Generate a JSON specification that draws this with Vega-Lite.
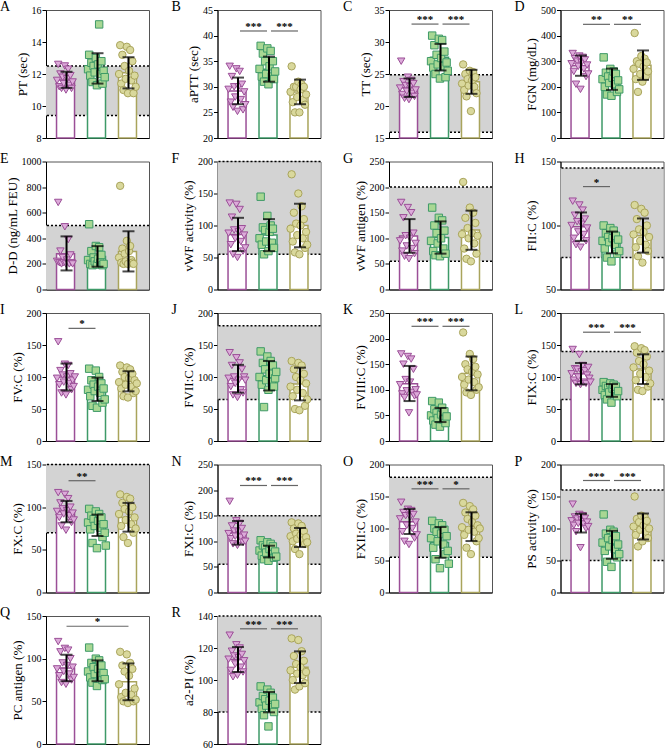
{
"$schema": "https://vega.github.io/schema/vega-lite/v6.json",
"padding": {"left": -1, "top": -1, "right": 0, "bottom": 0},
"bounds": "flush",
"columns": 4,
"spacing": {"row": 23.5, "column": 68.5},
"datasets": {
"ref": [
{"p":"A","lo":9.4,"hi":12.5},{"p":"C","lo":15.9,"hi":24.9},{"p":"E","lo":0,"hi":500},{"p":"F","lo":55,"hi":200},{"p":"G","lo":55,"hi":200},{"p":"H","lo":75,"hi":145},{"p":"J","lo":65,"hi":180},{"p":"L","lo":65,"hi":140},{"p":"M","lo":70,"hi":150},{"p":"N","lo":55,"hi":150},{"p":"O","lo":55,"hi":180},{"p":"P","lo":50,"hi":160},{"p":"R","lo":80,"hi":140}
],
"sig": [
{"p":"B","g1":"a","g2":"b","t":"***"},{"p":"B","g1":"b","g2":"c","t":"***"},
{"p":"C","g1":"a","g2":"b","t":"***"},{"p":"C","g1":"b","g2":"c","t":"***"},
{"p":"D","g1":"a","g2":"b","t":"**"},{"p":"D","g1":"b","g2":"c","t":"**"},
{"p":"H","g1":"a","g2":"b","t":"*"},
{"p":"I","g1":"a","g2":"b","t":"*"},
{"p":"K","g1":"a","g2":"b","t":"***"},{"p":"K","g1":"b","g2":"c","t":"***"},
{"p":"L","g1":"a","g2":"b","t":"***"},{"p":"L","g1":"b","g2":"c","t":"***"},
{"p":"M","g1":"a","g2":"b","t":"**"},
{"p":"N","g1":"a","g2":"b","t":"***"},{"p":"N","g1":"b","g2":"c","t":"***"},
{"p":"O","g1":"a","g2":"b","t":"***"},{"p":"O","g1":"b","g2":"c","t":"*"},
{"p":"P","g1":"a","g2":"b","t":"***"},{"p":"P","g1":"b","g2":"c","t":"***"},
{"p":"Q","g1":"a","g2":"c","t":"*"},
{"p":"R","g1":"a","g2":"b","t":"***"},{"p":"R","g1":"b","g2":"c","t":"***"}
],
"bars": [
{"p":"A","g":"a","m":11.63,"lo":11.13,"hi":12.14},{"p":"A","g":"b","m":12.35,"lo":11.4,"hi":13.3},{"p":"A","g":"c","m":12.08,"lo":11.1,"hi":13.05},
{"p":"B","g":"a","m":29.2,"lo":26.6,"hi":31.8},{"p":"B","g":"b","m":33.45,"lo":31.0,"hi":35.9},{"p":"B","g":"c","m":29.0,"lo":26.6,"hi":31.4},
{"p":"C","g":"a","m":22.85,"lo":21.4,"hi":24.3},{"p":"C","g":"b","m":27.6,"lo":25.55,"hi":29.7},{"p":"C","g":"c","m":23.8,"lo":21.9,"hi":25.65},
{"p":"D","g":"a","m":282,"lo":243,"hi":322},{"p":"D","g":"b","m":229,"lo":188,"hi":271},{"p":"D","g":"c","m":284,"lo":227,"hi":342},
{"p":"E","g":"a","m":280,"lo":149,"hi":415},{"p":"E","g":"b","m":258,"lo":178,"hi":339},{"p":"E","g":"c","m":297,"lo":141,"hi":455},
{"p":"F","g":"a","m":86,"lo":60,"hi":112},{"p":"F","g":"b","m":85,"lo":60,"hi":110},{"p":"F","g":"c","m":100,"lo":66,"hi":134},
{"p":"G","g":"a","m":104.5,"lo":71.7,"hi":137.5},{"p":"G","g":"b","m":101.5,"lo":70,"hi":133},{"p":"G","g":"c","m":116,"lo":77.5,"hi":154},
{"p":"H","g":"a","m":99,"lo":88,"hi":110.2},{"p":"H","g":"b","m":86.8,"lo":78.3,"hi":95.3},{"p":"H","g":"c","m":92,"lo":78.8,"hi":105.5},
{"p":"I","g":"a","m":100,"lo":79,"hi":121},{"p":"I","g":"b","m":81,"lo":62.5,"hi":99},{"p":"I","g":"c","m":93.3,"lo":77.6,"hi":109},
{"p":"J","g":"a","m":97.4,"lo":75.5,"hi":119},{"p":"J","g":"b","m":102,"lo":79,"hi":125},{"p":"J","g":"c","m":89,"lo":63.5,"hi":114.6},
{"p":"K","g":"a","m":112,"lo":78,"hi":146.6},{"p":"K","g":"b","m":50.7,"lo":37,"hi":64.5},{"p":"K","g":"c","m":132,"lo":99,"hi":165},
{"p":"L","g":"a","m":105,"lo":88.5,"hi":121.9},{"p":"L","g":"b","m":79,"lo":69,"hi":89},{"p":"L","g":"c","m":112.5,"lo":89,"hi":135.4},
{"p":"M","g":"a","m":94.6,"lo":82.3,"hi":107.3},{"p":"M","g":"b","m":78.5,"lo":66.2,"hi":91.3},{"p":"M","g":"c","m":88,"lo":71.3,"hi":105},
{"p":"N","g":"a","m":116.5,"lo":93.5,"hi":139.7},{"p":"N","g":"b","m":80,"lo":68.5,"hi":91.4},{"p":"N","g":"c","m":107,"lo":88.8,"hi":126},
{"p":"O","g":"a","m":110.7,"lo":91.4,"hi":130.5},{"p":"O","g":"b","m":78,"lo":54.3,"hi":102.3},{"p":"O","g":"c","m":102.8,"lo":80.4,"hi":125.3},
{"p":"P","g":"a","m":108,"lo":93.75,"hi":123},{"p":"P","g":"b","m":74.5,"lo":52.6,"hi":96.4},{"p":"P","g":"c","m":103,"lo":82.8,"hi":123.4},
{"p":"Q","g":"a","m":89,"lo":73.6,"hi":104.6},{"p":"Q","g":"b","m":85.8,"lo":73.6,"hi":98},{"p":"Q","g":"c","m":72.9,"lo":51.3,"hi":94.4},
{"p":"R","g":"a","m":112.8,"lo":105,"hi":120.6},{"p":"R","g":"b","m":86,"lo":79.8,"hi":92.5},{"p":"R","g":"c","m":108,"lo":98.1,"hi":117.9}
],
"pts": [
{"p":"A","g":"a","v":11.6},{"p":"A","g":"a","v":12.6},{"p":"A","g":"a","v":11.2},{"p":"A","g":"a","v":12.0},{"p":"A","g":"a","v":11.1},{"p":"A","g":"a","v":11.8},{"p":"A","g":"a","v":11.4},{"p":"A","g":"a","v":12.5},{"p":"A","g":"a","v":11.0},{"p":"A","g":"a","v":11.7},{"p":"A","g":"a","v":12.3},{"p":"A","g":"a","v":11.3},{"p":"A","g":"a","v":11.9},{"p":"A","g":"a","v":11.1},{"p":"A","g":"a","v":11.5},
{"p":"A","g":"b","v":12.3},{"p":"A","g":"b","v":13.2},{"p":"A","g":"b","v":11.9},{"p":"A","g":"b","v":12.7},{"p":"A","g":"b","v":11.5},{"p":"A","g":"b","v":12.5},{"p":"A","g":"b","v":12.1},{"p":"A","g":"b","v":13.0},{"p":"A","g":"b","v":11.3},{"p":"A","g":"b","v":12.6},{"p":"A","g":"b","v":15.1},{"p":"A","g":"b","v":12.0},{"p":"A","g":"b","v":12.8},{"p":"A","g":"b","v":11.4},{"p":"A","g":"b","v":12.2},{"p":"A","g":"b","v":11.8},
{"p":"A","g":"c","v":12.0},{"p":"A","g":"c","v":13.8},{"p":"A","g":"c","v":11.4},{"p":"A","g":"c","v":13.2},{"p":"A","g":"c","v":11.0},{"p":"A","g":"c","v":12.5},{"p":"A","g":"c","v":11.7},{"p":"A","g":"c","v":13.7},{"p":"A","g":"c","v":10.8},{"p":"A","g":"c","v":12.2},{"p":"A","g":"c","v":13.5},{"p":"A","g":"c","v":11.6},{"p":"A","g":"c","v":12.8},{"p":"A","g":"c","v":10.8},{"p":"A","g":"c","v":11.9},{"p":"A","g":"c","v":11.2},
{"p":"B","g":"a","v":29.5},{"p":"B","g":"a","v":34},{"p":"B","g":"a","v":27},{"p":"B","g":"a","v":32},{"p":"B","g":"a","v":26},{"p":"B","g":"a","v":30},{"p":"B","g":"a","v":28},{"p":"B","g":"a","v":33.5},{"p":"B","g":"a","v":25.2},{"p":"B","g":"a","v":30},{"p":"B","g":"a","v":33},{"p":"B","g":"a","v":27.5},{"p":"B","g":"a","v":30.5},{"p":"B","g":"a","v":25.5},{"p":"B","g":"a","v":29},{"p":"B","g":"a","v":26.5},
{"p":"B","g":"b","v":33.5},{"p":"B","g":"b","v":38},{"p":"B","g":"b","v":32},{"p":"B","g":"b","v":36.5},{"p":"B","g":"b","v":31},{"p":"B","g":"b","v":35},{"p":"B","g":"b","v":32.5},{"p":"B","g":"b","v":37.5},{"p":"B","g":"b","v":30.5},{"p":"B","g":"b","v":34},{"p":"B","g":"b","v":37},{"p":"B","g":"b","v":32},{"p":"B","g":"b","v":35},{"p":"B","g":"b","v":31.5},{"p":"B","g":"b","v":33},
{"p":"B","g":"c","v":29},{"p":"B","g":"c","v":34},{"p":"B","g":"c","v":27},{"p":"B","g":"c","v":30},{"p":"B","g":"c","v":25},{"p":"B","g":"c","v":30},{"p":"B","g":"c","v":28},{"p":"B","g":"c","v":31},{"p":"B","g":"c","v":25},{"p":"B","g":"c","v":29.5},{"p":"B","g":"c","v":30.5},{"p":"B","g":"c","v":27.5},{"p":"B","g":"c","v":30},{"p":"B","g":"c","v":26.5},{"p":"B","g":"c","v":28.5},
{"p":"C","g":"a","v":22.8},{"p":"C","g":"a","v":27},{"p":"C","g":"a","v":21.8},{"p":"C","g":"a","v":23.8},{"p":"C","g":"a","v":21.2},{"p":"C","g":"a","v":23.2},{"p":"C","g":"a","v":22.3},{"p":"C","g":"a","v":24.5},{"p":"C","g":"a","v":21},{"p":"C","g":"a","v":23},{"p":"C","g":"a","v":24},{"p":"C","g":"a","v":22},{"p":"C","g":"a","v":23.5},{"p":"C","g":"a","v":21.5},{"p":"C","g":"a","v":22.5},
{"p":"C","g":"b","v":27},{"p":"C","g":"b","v":31},{"p":"C","g":"b","v":26},{"p":"C","g":"b","v":29.5},{"p":"C","g":"b","v":25},{"p":"C","g":"b","v":28},{"p":"C","g":"b","v":26.5},{"p":"C","g":"b","v":30.5},{"p":"C","g":"b","v":24.3},{"p":"C","g":"b","v":27.5},{"p":"C","g":"b","v":30.3},{"p":"C","g":"b","v":26.2},{"p":"C","g":"b","v":28.5},{"p":"C","g":"b","v":24.5},{"p":"C","g":"b","v":26.8},{"p":"C","g":"b","v":25.5},
{"p":"C","g":"c","v":23.5},{"p":"C","g":"c","v":26.5},{"p":"C","g":"c","v":22.5},{"p":"C","g":"c","v":25},{"p":"C","g":"c","v":21.5},{"p":"C","g":"c","v":24.2},{"p":"C","g":"c","v":23.2},{"p":"C","g":"c","v":25.5},{"p":"C","g":"c","v":19.2},{"p":"C","g":"c","v":24},{"p":"C","g":"c","v":25.3},{"p":"C","g":"c","v":23},{"p":"C","g":"c","v":24.5},{"p":"C","g":"c","v":22},
{"p":"D","g":"a","v":290},{"p":"D","g":"a","v":330},{"p":"D","g":"a","v":260},{"p":"D","g":"a","v":310},{"p":"D","g":"a","v":210},{"p":"D","g":"a","v":300},{"p":"D","g":"a","v":280},{"p":"D","g":"a","v":320},{"p":"D","g":"a","v":190},{"p":"D","g":"a","v":295},{"p":"D","g":"a","v":315},{"p":"D","g":"a","v":270},{"p":"D","g":"a","v":305},{"p":"D","g":"a","v":240},{"p":"D","g":"a","v":285},{"p":"D","g":"a","v":250},
{"p":"D","g":"b","v":230},{"p":"D","g":"b","v":315},{"p":"D","g":"b","v":200},{"p":"D","g":"b","v":255},{"p":"D","g":"b","v":170},{"p":"D","g":"b","v":240},{"p":"D","g":"b","v":215},{"p":"D","g":"b","v":270},{"p":"D","g":"b","v":165},{"p":"D","g":"b","v":235},{"p":"D","g":"b","v":260},{"p":"D","g":"b","v":210},{"p":"D","g":"b","v":250},{"p":"D","g":"b","v":180},{"p":"D","g":"b","v":225},{"p":"D","g":"b","v":190},
{"p":"D","g":"c","v":270},{"p":"D","g":"c","v":410},{"p":"D","g":"c","v":230},{"p":"D","g":"c","v":300},{"p":"D","g":"c","v":180},{"p":"D","g":"c","v":290},{"p":"D","g":"c","v":250},{"p":"D","g":"c","v":320},{"p":"D","g":"c","v":220},{"p":"D","g":"c","v":280},{"p":"D","g":"c","v":310},{"p":"D","g":"c","v":240},{"p":"D","g":"c","v":295},{"p":"D","g":"c","v":260},
{"p":"E","g":"a","v":220},{"p":"E","g":"a","v":680},{"p":"E","g":"a","v":210},{"p":"E","g":"a","v":300},{"p":"E","g":"a","v":200},{"p":"E","g":"a","v":250},{"p":"E","g":"a","v":210},{"p":"E","g":"a","v":490},{"p":"E","g":"a","v":200},{"p":"E","g":"a","v":230},{"p":"E","g":"a","v":390},{"p":"E","g":"a","v":200},{"p":"E","g":"a","v":270},{"p":"E","g":"a","v":210},{"p":"E","g":"a","v":200},
{"p":"E","g":"b","v":230},{"p":"E","g":"b","v":510},{"p":"E","g":"b","v":200},{"p":"E","g":"b","v":300},{"p":"E","g":"b","v":190},{"p":"E","g":"b","v":250},{"p":"E","g":"b","v":220},{"p":"E","g":"b","v":340},{"p":"E","g":"b","v":195},{"p":"E","g":"b","v":240},{"p":"E","g":"b","v":330},{"p":"E","g":"b","v":210},{"p":"E","g":"b","v":270},{"p":"E","g":"b","v":190},{"p":"E","g":"b","v":200},
{"p":"E","g":"c","v":250},{"p":"E","g":"c","v":810},{"p":"E","g":"c","v":210},{"p":"E","g":"c","v":320},{"p":"E","g":"c","v":200},{"p":"E","g":"c","v":280},{"p":"E","g":"c","v":220},{"p":"E","g":"c","v":380},{"p":"E","g":"c","v":200},{"p":"E","g":"c","v":300},{"p":"E","g":"c","v":340},{"p":"E","g":"c","v":230},{"p":"E","g":"c","v":210},{"p":"E","g":"c","v":200},
{"p":"F","g":"a","v":88},{"p":"F","g":"a","v":135},{"p":"F","g":"a","v":70},{"p":"F","g":"a","v":113},{"p":"F","g":"a","v":55},{"p":"F","g":"a","v":93},{"p":"F","g":"a","v":80},{"p":"F","g":"a","v":133},{"p":"F","g":"a","v":50},{"p":"F","g":"a","v":90},{"p":"F","g":"a","v":125},{"p":"F","g":"a","v":75},{"p":"F","g":"a","v":95},{"p":"F","g":"a","v":60},{"p":"F","g":"a","v":85},{"p":"F","g":"a","v":65},
{"p":"F","g":"b","v":80},{"p":"F","g":"b","v":145},{"p":"F","g":"b","v":70},{"p":"F","g":"b","v":97},{"p":"F","g":"b","v":55},{"p":"F","g":"b","v":93},{"p":"F","g":"b","v":75},{"p":"F","g":"b","v":115},{"p":"F","g":"b","v":60},{"p":"F","g":"b","v":90},{"p":"F","g":"b","v":100},{"p":"F","g":"b","v":73},{"p":"F","g":"b","v":95},{"p":"F","g":"b","v":65},
{"p":"F","g":"c","v":95},{"p":"F","g":"c","v":180},{"p":"F","g":"c","v":75},{"p":"F","g":"c","v":120},{"p":"F","g":"c","v":58},{"p":"F","g":"c","v":103},{"p":"F","g":"c","v":85},{"p":"F","g":"c","v":150},{"p":"F","g":"c","v":55},{"p":"F","g":"c","v":100},{"p":"F","g":"c","v":130},{"p":"F","g":"c","v":80},{"p":"F","g":"c","v":110},{"p":"F","g":"c","v":65},{"p":"F","g":"c","v":90},{"p":"F","g":"c","v":70},
{"p":"G","g":"a","v":95},{"p":"G","g":"a","v":170},{"p":"G","g":"a","v":75},{"p":"G","g":"a","v":140},{"p":"G","g":"a","v":65},{"p":"G","g":"a","v":105},{"p":"G","g":"a","v":85},{"p":"G","g":"a","v":160},{"p":"G","g":"a","v":60},{"p":"G","g":"a","v":100},{"p":"G","g":"a","v":150},{"p":"G","g":"a","v":80},{"p":"G","g":"a","v":110},{"p":"G","g":"a","v":70},{"p":"G","g":"a","v":90},
{"p":"G","g":"b","v":95},{"p":"G","g":"b","v":160},{"p":"G","g":"b","v":75},{"p":"G","g":"b","v":125},{"p":"G","g":"b","v":67},{"p":"G","g":"b","v":110},{"p":"G","g":"b","v":90},{"p":"G","g":"b","v":140},{"p":"G","g":"b","v":65},{"p":"G","g":"b","v":100},{"p":"G","g":"b","v":135},{"p":"G","g":"b","v":80},{"p":"G","g":"b","v":115},{"p":"G","g":"b","v":70},
{"p":"G","g":"c","v":108},{"p":"G","g":"c","v":210},{"p":"G","g":"c","v":80},{"p":"G","g":"c","v":140},{"p":"G","g":"c","v":60},{"p":"G","g":"c","v":120},{"p":"G","g":"c","v":100},{"p":"G","g":"c","v":160},{"p":"G","g":"c","v":55},{"p":"G","g":"c","v":110},{"p":"G","g":"c","v":150},{"p":"G","g":"c","v":90},{"p":"G","g":"c","v":130},{"p":"G","g":"c","v":70},{"p":"G","g":"c","v":105},
{"p":"H","g":"a","v":100},{"p":"H","g":"a","v":119},{"p":"H","g":"a","v":90},{"p":"H","g":"a","v":108},{"p":"H","g":"a","v":85},{"p":"H","g":"a","v":103},{"p":"H","g":"a","v":95},{"p":"H","g":"a","v":116},{"p":"H","g":"a","v":83},{"p":"H","g":"a","v":101},{"p":"H","g":"a","v":112},{"p":"H","g":"a","v":93},{"p":"H","g":"a","v":105},{"p":"H","g":"a","v":88},{"p":"H","g":"a","v":98},
{"p":"H","g":"b","v":88},{"p":"H","g":"b","v":100},{"p":"H","g":"b","v":82},{"p":"H","g":"b","v":94},{"p":"H","g":"b","v":75},{"p":"H","g":"b","v":91},{"p":"H","g":"b","v":87},{"p":"H","g":"b","v":98},{"p":"H","g":"b","v":72},{"p":"H","g":"b","v":90},{"p":"H","g":"b","v":96},{"p":"H","g":"b","v":85},{"p":"H","g":"b","v":92},{"p":"H","g":"b","v":78},{"p":"H","g":"b","v":89},{"p":"H","g":"b","v":80},
{"p":"H","g":"c","v":93},{"p":"H","g":"c","v":116},{"p":"H","g":"c","v":83},{"p":"H","g":"c","v":105},{"p":"H","g":"c","v":76},{"p":"H","g":"c","v":97},{"p":"H","g":"c","v":88},{"p":"H","g":"c","v":113},{"p":"H","g":"c","v":71},{"p":"H","g":"c","v":95},{"p":"H","g":"c","v":110},{"p":"H","g":"c","v":85},{"p":"H","g":"c","v":100},{"p":"H","g":"c","v":80},{"p":"H","g":"c","v":91},
{"p":"I","g":"a","v":98},{"p":"I","g":"a","v":155},{"p":"I","g":"a","v":88},{"p":"I","g":"a","v":110},{"p":"I","g":"a","v":75},{"p":"I","g":"a","v":103},{"p":"I","g":"a","v":92},{"p":"I","g":"a","v":120},{"p":"I","g":"a","v":72},{"p":"I","g":"a","v":100},{"p":"I","g":"a","v":118},{"p":"I","g":"a","v":90},{"p":"I","g":"a","v":105},{"p":"I","g":"a","v":80},{"p":"I","g":"a","v":95},{"p":"I","g":"a","v":85},{"p":"I","g":"a","v":100},
{"p":"I","g":"b","v":80},{"p":"I","g":"b","v":113},{"p":"I","g":"b","v":70},{"p":"I","g":"b","v":95},{"p":"I","g":"b","v":55},{"p":"I","g":"b","v":88},{"p":"I","g":"b","v":78},{"p":"I","g":"b","v":110},{"p":"I","g":"b","v":52},{"p":"I","g":"b","v":85},{"p":"I","g":"b","v":100},{"p":"I","g":"b","v":75},{"p":"I","g":"b","v":90},{"p":"I","g":"b","v":60},{"p":"I","g":"b","v":82},{"p":"I","g":"b","v":65},
{"p":"I","g":"c","v":92},{"p":"I","g":"c","v":118},{"p":"I","g":"c","v":82},{"p":"I","g":"c","v":108},{"p":"I","g":"c","v":70},{"p":"I","g":"c","v":100},{"p":"I","g":"c","v":88},{"p":"I","g":"c","v":115},{"p":"I","g":"c","v":68},{"p":"I","g":"c","v":98},{"p":"I","g":"c","v":112},{"p":"I","g":"c","v":85},{"p":"I","g":"c","v":105},{"p":"I","g":"c","v":75},{"p":"I","g":"c","v":95},{"p":"I","g":"c","v":78},{"p":"I","g":"c","v":90},
{"p":"J","g":"a","v":98},{"p":"J","g":"a","v":138},{"p":"J","g":"a","v":85},{"p":"J","g":"a","v":118},{"p":"J","g":"a","v":72},{"p":"J","g":"a","v":100},{"p":"J","g":"a","v":90},{"p":"J","g":"a","v":130},{"p":"J","g":"a","v":68},{"p":"J","g":"a","v":95},{"p":"J","g":"a","v":122},{"p":"J","g":"a","v":80},{"p":"J","g":"a","v":112},{"p":"J","g":"a","v":75},{"p":"J","g":"a","v":100},{"p":"J","g":"a","v":95},
{"p":"J","g":"b","v":100},{"p":"J","g":"b","v":140},{"p":"J","g":"b","v":88},{"p":"J","g":"b","v":122},{"p":"J","g":"b","v":53},{"p":"J","g":"b","v":112},{"p":"J","g":"b","v":95},{"p":"J","g":"b","v":132},{"p":"J","g":"b","v":80},{"p":"J","g":"b","v":105},{"p":"J","g":"b","v":125},{"p":"J","g":"b","v":92},{"p":"J","g":"b","v":118},{"p":"J","g":"b","v":85},{"p":"J","g":"b","v":98},{"p":"J","g":"b","v":108},
{"p":"J","g":"c","v":85},{"p":"J","g":"c","v":125},{"p":"J","g":"c","v":70},{"p":"J","g":"c","v":112},{"p":"J","g":"c","v":50},{"p":"J","g":"c","v":100},{"p":"J","g":"c","v":80},{"p":"J","g":"c","v":122},{"p":"J","g":"c","v":48},{"p":"J","g":"c","v":95},{"p":"J","g":"c","v":118},{"p":"J","g":"c","v":75},{"p":"J","g":"c","v":105},{"p":"J","g":"c","v":55},{"p":"J","g":"c","v":90},{"p":"J","g":"c","v":65},
{"p":"K","g":"a","v":110},{"p":"K","g":"a","v":170},{"p":"K","g":"a","v":92},{"p":"K","g":"a","v":150},{"p":"K","g":"a","v":85},{"p":"K","g":"a","v":120},{"p":"K","g":"a","v":98},{"p":"K","g":"a","v":165},{"p":"K","g":"a","v":55},{"p":"K","g":"a","v":115},{"p":"K","g":"a","v":160},{"p":"K","g":"a","v":95},{"p":"K","g":"a","v":140},{"p":"K","g":"a","v":88},{"p":"K","g":"a","v":100},{"p":"K","g":"a","v":90},
{"p":"K","g":"b","v":50},{"p":"K","g":"b","v":78},{"p":"K","g":"b","v":40},{"p":"K","g":"b","v":62},{"p":"K","g":"b","v":32},{"p":"K","g":"b","v":55},{"p":"K","g":"b","v":45},{"p":"K","g":"b","v":75},{"p":"K","g":"b","v":28},{"p":"K","g":"b","v":52},{"p":"K","g":"b","v":65},{"p":"K","g":"b","v":42},{"p":"K","g":"b","v":58},{"p":"K","g":"b","v":35},{"p":"K","g":"b","v":48},
{"p":"K","g":"c","v":125},{"p":"K","g":"c","v":212},{"p":"K","g":"c","v":110},{"p":"K","g":"c","v":150},{"p":"K","g":"c","v":95},{"p":"K","g":"c","v":140},{"p":"K","g":"c","v":120},{"p":"K","g":"c","v":170},{"p":"K","g":"c","v":90},{"p":"K","g":"c","v":135},{"p":"K","g":"c","v":160},{"p":"K","g":"c","v":115},{"p":"K","g":"c","v":145},{"p":"K","g":"c","v":100},{"p":"K","g":"c","v":130},{"p":"K","g":"c","v":105},
{"p":"L","g":"a","v":105},{"p":"L","g":"a","v":143},{"p":"L","g":"a","v":95},{"p":"L","g":"a","v":113},{"p":"L","g":"a","v":90},{"p":"L","g":"a","v":112},{"p":"L","g":"a","v":100},{"p":"L","g":"a","v":135},{"p":"L","g":"a","v":88},{"p":"L","g":"a","v":108},{"p":"L","g":"a","v":118},{"p":"L","g":"a","v":92},{"p":"L","g":"a","v":110},{"p":"L","g":"a","v":90},{"p":"L","g":"a","v":103},{"p":"L","g":"a","v":115},{"p":"L","g":"a","v":98},{"p":"L","g":"a","v":92},
{"p":"L","g":"b","v":80},{"p":"L","g":"b","v":92},{"p":"L","g":"b","v":72},{"p":"L","g":"b","v":86},{"p":"L","g":"b","v":65},{"p":"L","g":"b","v":83},{"p":"L","g":"b","v":76},{"p":"L","g":"b","v":90},{"p":"L","g":"b","v":60},{"p":"L","g":"b","v":82},{"p":"L","g":"b","v":88},{"p":"L","g":"b","v":74},{"p":"L","g":"b","v":85},{"p":"L","g":"b","v":70},{"p":"L","g":"b","v":78},
{"p":"L","g":"c","v":115},{"p":"L","g":"c","v":148},{"p":"L","g":"c","v":95},{"p":"L","g":"c","v":138},{"p":"L","g":"c","v":80},{"p":"L","g":"c","v":125},{"p":"L","g":"c","v":105},{"p":"L","g":"c","v":145},{"p":"L","g":"c","v":78},{"p":"L","g":"c","v":120},{"p":"L","g":"c","v":142},{"p":"L","g":"c","v":100},{"p":"L","g":"c","v":132},{"p":"L","g":"c","v":85},{"p":"L","g":"c","v":110},{"p":"L","g":"c","v":90},
{"p":"M","g":"a","v":95},{"p":"M","g":"a","v":117},{"p":"M","g":"a","v":88},{"p":"M","g":"a","v":105},{"p":"M","g":"a","v":78},{"p":"M","g":"a","v":98},{"p":"M","g":"a","v":92},{"p":"M","g":"a","v":115},{"p":"M","g":"a","v":73},{"p":"M","g":"a","v":96},{"p":"M","g":"a","v":110},{"p":"M","g":"a","v":90},{"p":"M","g":"a","v":100},{"p":"M","g":"a","v":82},{"p":"M","g":"a","v":93},{"p":"M","g":"a","v":85},
{"p":"M","g":"b","v":82},{"p":"M","g":"b","v":98},{"p":"M","g":"b","v":74},{"p":"M","g":"b","v":90},{"p":"M","g":"b","v":58},{"p":"M","g":"b","v":86},{"p":"M","g":"b","v":78},{"p":"M","g":"b","v":95},{"p":"M","g":"b","v":52},{"p":"M","g":"b","v":84},{"p":"M","g":"b","v":92},{"p":"M","g":"b","v":76},{"p":"M","g":"b","v":88},{"p":"M","g":"b","v":65},{"p":"M","g":"b","v":80},{"p":"M","g":"b","v":70},{"p":"M","g":"b","v":55},
{"p":"M","g":"c","v":92},{"p":"M","g":"c","v":115},{"p":"M","g":"c","v":78},{"p":"M","g":"c","v":105},{"p":"M","g":"c","v":65},{"p":"M","g":"c","v":98},{"p":"M","g":"c","v":85},{"p":"M","g":"c","v":112},{"p":"M","g":"c","v":58},{"p":"M","g":"c","v":95},{"p":"M","g":"c","v":110},{"p":"M","g":"c","v":80},{"p":"M","g":"c","v":100},{"p":"M","g":"c","v":70},{"p":"M","g":"c","v":88},{"p":"M","g":"c","v":75},
{"p":"N","g":"a","v":115},{"p":"N","g":"a","v":178},{"p":"N","g":"a","v":105},{"p":"N","g":"a","v":130},{"p":"N","g":"a","v":95},{"p":"N","g":"a","v":120},{"p":"N","g":"a","v":110},{"p":"N","g":"a","v":140},{"p":"N","g":"a","v":92},{"p":"N","g":"a","v":118},{"p":"N","g":"a","v":135},{"p":"N","g":"a","v":108},{"p":"N","g":"a","v":125},{"p":"N","g":"a","v":98},{"p":"N","g":"a","v":112},{"p":"N","g":"a","v":100},
{"p":"N","g":"b","v":82},{"p":"N","g":"b","v":102},{"p":"N","g":"b","v":72},{"p":"N","g":"b","v":92},{"p":"N","g":"b","v":65},{"p":"N","g":"b","v":88},{"p":"N","g":"b","v":78},{"p":"N","g":"b","v":98},{"p":"N","g":"b","v":62},{"p":"N","g":"b","v":85},{"p":"N","g":"b","v":95},{"p":"N","g":"b","v":75},{"p":"N","g":"b","v":90},{"p":"N","g":"b","v":68},{"p":"N","g":"b","v":80},{"p":"N","g":"b","v":70},
{"p":"N","g":"c","v":110},{"p":"N","g":"c","v":137},{"p":"N","g":"c","v":100},{"p":"N","g":"c","v":125},{"p":"N","g":"c","v":85},{"p":"N","g":"c","v":115},{"p":"N","g":"c","v":105},{"p":"N","g":"c","v":135},{"p":"N","g":"c","v":75},{"p":"N","g":"c","v":112},{"p":"N","g":"c","v":130},{"p":"N","g":"c","v":102},{"p":"N","g":"c","v":120},{"p":"N","g":"c","v":95},{"p":"N","g":"c","v":108},{"p":"N","g":"c","v":98},
{"p":"O","g":"a","v":115},{"p":"O","g":"a","v":141},{"p":"O","g":"a","v":95},{"p":"O","g":"a","v":125},{"p":"O","g":"a","v":80},{"p":"O","g":"a","v":120},{"p":"O","g":"a","v":105},{"p":"O","g":"a","v":130},{"p":"O","g":"a","v":75},{"p":"O","g":"a","v":118},{"p":"O","g":"a","v":128},{"p":"O","g":"a","v":100},{"p":"O","g":"a","v":122},{"p":"O","g":"a","v":85},{"p":"O","g":"a","v":110},{"p":"O","g":"a","v":90},
{"p":"O","g":"b","v":85},{"p":"O","g":"b","v":112},{"p":"O","g":"b","v":70},{"p":"O","g":"b","v":100},{"p":"O","g":"b","v":52},{"p":"O","g":"b","v":95},{"p":"O","g":"b","v":80},{"p":"O","g":"b","v":108},{"p":"O","g":"b","v":38},{"p":"O","g":"b","v":92},{"p":"O","g":"b","v":105},{"p":"O","g":"b","v":75},{"p":"O","g":"b","v":98},{"p":"O","g":"b","v":60},{"p":"O","g":"b","v":88},{"p":"O","g":"b","v":65},{"p":"O","g":"b","v":45},
{"p":"O","g":"c","v":102},{"p":"O","g":"c","v":140},{"p":"O","g":"c","v":90},{"p":"O","g":"c","v":125},{"p":"O","g":"c","v":70},{"p":"O","g":"c","v":115},{"p":"O","g":"c","v":98},{"p":"O","g":"c","v":135},{"p":"O","g":"c","v":60},{"p":"O","g":"c","v":110},{"p":"O","g":"c","v":130},{"p":"O","g":"c","v":95},{"p":"O","g":"c","v":120},{"p":"O","g":"c","v":80},{"p":"O","g":"c","v":105},{"p":"O","g":"c","v":85},{"p":"O","g":"c","v":100},
{"p":"P","g":"a","v":112},{"p":"P","g":"a","v":138},{"p":"P","g":"a","v":105},{"p":"P","g":"a","v":118},{"p":"P","g":"a","v":95},{"p":"P","g":"a","v":115},{"p":"P","g":"a","v":108},{"p":"P","g":"a","v":122},{"p":"P","g":"a","v":70},{"p":"P","g":"a","v":113},{"p":"P","g":"a","v":120},{"p":"P","g":"a","v":107},{"p":"P","g":"a","v":116},{"p":"P","g":"a","v":100},{"p":"P","g":"a","v":110},{"p":"P","g":"a","v":103},
{"p":"P","g":"b","v":78},{"p":"P","g":"b","v":122},{"p":"P","g":"b","v":65},{"p":"P","g":"b","v":92},{"p":"P","g":"b","v":48},{"p":"P","g":"b","v":85},{"p":"P","g":"b","v":72},{"p":"P","g":"b","v":98},{"p":"P","g":"b","v":40},{"p":"P","g":"b","v":82},{"p":"P","g":"b","v":95},{"p":"P","g":"b","v":68},{"p":"P","g":"b","v":88},{"p":"P","g":"b","v":55},{"p":"P","g":"b","v":75},{"p":"P","g":"b","v":60},
{"p":"P","g":"c","v":103},{"p":"P","g":"c","v":150},{"p":"P","g":"c","v":90},{"p":"P","g":"c","v":115},{"p":"P","g":"c","v":72},{"p":"P","g":"c","v":110},{"p":"P","g":"c","v":98},{"p":"P","g":"c","v":120},{"p":"P","g":"c","v":80},{"p":"P","g":"c","v":105},{"p":"P","g":"c","v":118},{"p":"P","g":"c","v":95},{"p":"P","g":"c","v":112},{"p":"P","g":"c","v":85},{"p":"P","g":"c","v":100},
{"p":"Q","g":"a","v":88},{"p":"Q","g":"a","v":120},{"p":"Q","g":"a","v":80},{"p":"Q","g":"a","v":108},{"p":"Q","g":"a","v":72},{"p":"Q","g":"a","v":95},{"p":"Q","g":"a","v":85},{"p":"Q","g":"a","v":112},{"p":"Q","g":"a","v":70},{"p":"Q","g":"a","v":92},{"p":"Q","g":"a","v":110},{"p":"Q","g":"a","v":82},{"p":"Q","g":"a","v":100},{"p":"Q","g":"a","v":75},{"p":"Q","g":"a","v":90},{"p":"Q","g":"a","v":78},
{"p":"Q","g":"b","v":85},{"p":"Q","g":"b","v":113},{"p":"Q","g":"b","v":78},{"p":"Q","g":"b","v":95},{"p":"Q","g":"b","v":72},{"p":"Q","g":"b","v":90},{"p":"Q","g":"b","v":82},{"p":"Q","g":"b","v":100},{"p":"Q","g":"b","v":68},{"p":"Q","g":"b","v":88},{"p":"Q","g":"b","v":98},{"p":"Q","g":"b","v":80},{"p":"Q","g":"b","v":92},{"p":"Q","g":"b","v":75},{"p":"Q","g":"b","v":83},{"p":"Q","g":"b","v":76},
{"p":"Q","g":"c","v":70},{"p":"Q","g":"c","v":108},{"p":"Q","g":"c","v":55},{"p":"Q","g":"c","v":92},{"p":"Q","g":"c","v":50},{"p":"Q","g":"c","v":85},{"p":"Q","g":"c","v":60},{"p":"Q","g":"c","v":105},{"p":"Q","g":"c","v":48},{"p":"Q","g":"c","v":80},{"p":"Q","g":"c","v":95},{"p":"Q","g":"c","v":58},{"p":"Q","g":"c","v":88},{"p":"Q","g":"c","v":50},{"p":"Q","g":"c","v":65},{"p":"Q","g":"c","v":52},
{"p":"R","g":"a","v":113},{"p":"R","g":"a","v":128},{"p":"R","g":"a","v":106},{"p":"R","g":"a","v":118},{"p":"R","g":"a","v":102},{"p":"R","g":"a","v":115},{"p":"R","g":"a","v":110},{"p":"R","g":"a","v":122},{"p":"R","g":"a","v":103},{"p":"R","g":"a","v":114},{"p":"R","g":"a","v":120},{"p":"R","g":"a","v":108},{"p":"R","g":"a","v":116},{"p":"R","g":"a","v":105},{"p":"R","g":"a","v":112},
{"p":"R","g":"b","v":86},{"p":"R","g":"b","v":96},{"p":"R","g":"b","v":82},{"p":"R","g":"b","v":90},{"p":"R","g":"b","v":78},{"p":"R","g":"b","v":88},{"p":"R","g":"b","v":84},{"p":"R","g":"b","v":94},{"p":"R","g":"b","v":71},{"p":"R","g":"b","v":87},{"p":"R","g":"b","v":92},{"p":"R","g":"b","v":83},{"p":"R","g":"b","v":89},{"p":"R","g":"b","v":80},{"p":"R","g":"b","v":85},
{"p":"R","g":"c","v":106},{"p":"R","g":"c","v":126},{"p":"R","g":"c","v":100},{"p":"R","g":"c","v":115},{"p":"R","g":"c","v":94},{"p":"R","g":"c","v":110},{"p":"R","g":"c","v":104},{"p":"R","g":"c","v":125},{"p":"R","g":"c","v":96},{"p":"R","g":"c","v":108},{"p":"R","g":"c","v":118},{"p":"R","g":"c","v":103},{"p":"R","g":"c","v":112},{"p":"R","g":"c","v":98},{"p":"R","g":"c","v":105}
]
},
"concat": [
{"title":"A","width":103,"height":128,"layer":[
{"data":{"name":"ref"},"transform":[{"filter":"datum.p=='A'"}],"mark":{"type":"rect","color":"#d3d3d3"},"encoding":{"y":{"field":"lo","type":"quantitative"},"y2":{"field":"hi"}}},
{"data":{"name":"ref"},"transform":[{"filter":"datum.p=='A'"},{"fold":["lo","hi"]}],"mark":{"type":"rule","color":"#000","strokeDash":[2,2],"strokeWidth":1.5},"encoding":{"y":{"field":"value","type":"quantitative"}}},
{"data":{"name":"bars"},"transform":[{"filter":"datum.p=='A'"}],"mark":{"type":"bar","fill":"#fff","strokeWidth":1.5},"encoding":{"x":{"field":"g","type":"nominal","title":null},"y":{"field":"m","type":"quantitative","stack":null,"title":"PT (sec)","scale":{"domain":[8,16],"zero":false,"nice":false}},"stroke":{"field":"g","type":"nominal"}}},
{"data":{"name":"pts"},"transform":[{"filter":"datum.p=='A'"},{"window":[{"op":"row_number","as":"k"}],"groupby":["g"]}],"mark":{"type":"point","filled":true,"size":55,"opacity":1,"strokeWidth":1},"encoding":{"x":{"field":"g","type":"nominal"},"xOffset":{"field":"k","type":"nominal"},"y":{"field":"v","type":"quantitative"},"stroke":{"field":"g","type":"nominal"},"fill":{"field":"g","type":"ordinal"},"shape":{"field":"g","type":"nominal"}}},
{"data":{"name":"bars"},"transform":[{"filter":"datum.p=='A'"}],"mark":{"type":"rule","color":"#000","strokeWidth":2},"encoding":{"x":{"field":"g","type":"nominal"},"y":{"field":"lo","type":"quantitative"},"y2":{"field":"hi"}}},
{"data":{"name":"bars"},"transform":[{"filter":"datum.p=='A'"},{"fold":["lo","hi"]}],"mark":{"type":"tick","color":"#000","thickness":2,"size":12},"encoding":{"x":{"field":"g","type":"nominal"},"y":{"field":"value","type":"quantitative"}}}
]},
{"title":"B","width":103,"height":128,"layer":[
{"data":{"name":"bars"},"transform":[{"filter":"datum.p=='B'"}],"mark":{"type":"bar","fill":"#fff","strokeWidth":1.5},"encoding":{"x":{"field":"g","type":"nominal","title":null},"y":{"field":"m","type":"quantitative","stack":null,"title":"aPTT (sec)","scale":{"domain":[20,45],"zero":false,"nice":false}},"stroke":{"field":"g","type":"nominal"}}},
{"data":{"name":"pts"},"transform":[{"filter":"datum.p=='B'"},{"window":[{"op":"row_number","as":"k"}],"groupby":["g"]}],"mark":{"type":"point","filled":true,"size":55,"opacity":1,"strokeWidth":1},"encoding":{"x":{"field":"g","type":"nominal"},"xOffset":{"field":"k","type":"nominal"},"y":{"field":"v","type":"quantitative"},"stroke":{"field":"g","type":"nominal"},"fill":{"field":"g","type":"ordinal"},"shape":{"field":"g","type":"nominal"}}},
{"data":{"name":"bars"},"transform":[{"filter":"datum.p=='B'"}],"mark":{"type":"rule","color":"#000","strokeWidth":2},"encoding":{"x":{"field":"g","type":"nominal"},"y":{"field":"lo","type":"quantitative"},"y2":{"field":"hi"}}},
{"data":{"name":"bars"},"transform":[{"filter":"datum.p=='B'"},{"fold":["lo","hi"]}],"mark":{"type":"tick","color":"#000","thickness":2,"size":12},"encoding":{"x":{"field":"g","type":"nominal"},"y":{"field":"value","type":"quantitative"}}},
{"data":{"name":"sig"},"transform":[{"filter":"datum.p=='B'"}],"mark":{"type":"rule","color":"#666","strokeWidth":1.2,"xOffset":2,"x2Offset":-2},"encoding":{"x":{"field":"g1","type":"nominal"},"x2":{"field":"g2"},"y":{"datum":40.9}}},
{"data":{"name":"sig"},"transform":[{"filter":"datum.p=='B'"}],"mark":{"type":"text","fill":"#000","fontSize":11,"fontWeight":"bold","dy":-1,"baseline":"alphabetic"},"encoding":{"x":{"field":"g1","type":"nominal","bandPosition":1.275},"y":{"datum":40.9},"text":{"field":"t"}}}
]},
{"title":"C","width":103,"height":128,"layer":[
{"data":{"name":"ref"},"transform":[{"filter":"datum.p=='C'"}],"mark":{"type":"rect","color":"#d3d3d3"},"encoding":{"y":{"field":"lo","type":"quantitative"},"y2":{"field":"hi"}}},
{"data":{"name":"ref"},"transform":[{"filter":"datum.p=='C'"},{"fold":["lo","hi"]}],"mark":{"type":"rule","color":"#000","strokeDash":[2,2],"strokeWidth":1.5},"encoding":{"y":{"field":"value","type":"quantitative"}}},
{"data":{"name":"bars"},"transform":[{"filter":"datum.p=='C'"}],"mark":{"type":"bar","fill":"#fff","strokeWidth":1.5},"encoding":{"x":{"field":"g","type":"nominal","title":null},"y":{"field":"m","type":"quantitative","stack":null,"title":"TT (sec)","scale":{"domain":[15,35],"zero":false,"nice":false}},"stroke":{"field":"g","type":"nominal"}}},
{"data":{"name":"pts"},"transform":[{"filter":"datum.p=='C'"},{"window":[{"op":"row_number","as":"k"}],"groupby":["g"]}],"mark":{"type":"point","filled":true,"size":55,"opacity":1,"strokeWidth":1},"encoding":{"x":{"field":"g","type":"nominal"},"xOffset":{"field":"k","type":"nominal"},"y":{"field":"v","type":"quantitative"},"stroke":{"field":"g","type":"nominal"},"fill":{"field":"g","type":"ordinal"},"shape":{"field":"g","type":"nominal"}}},
{"data":{"name":"bars"},"transform":[{"filter":"datum.p=='C'"}],"mark":{"type":"rule","color":"#000","strokeWidth":2},"encoding":{"x":{"field":"g","type":"nominal"},"y":{"field":"lo","type":"quantitative"},"y2":{"field":"hi"}}},
{"data":{"name":"bars"},"transform":[{"filter":"datum.p=='C'"},{"fold":["lo","hi"]}],"mark":{"type":"tick","color":"#000","thickness":2,"size":12},"encoding":{"x":{"field":"g","type":"nominal"},"y":{"field":"value","type":"quantitative"}}},
{"data":{"name":"sig"},"transform":[{"filter":"datum.p=='C'"}],"mark":{"type":"rule","color":"#666","strokeWidth":1.2,"xOffset":2,"x2Offset":-2},"encoding":{"x":{"field":"g1","type":"nominal"},"x2":{"field":"g2"},"y":{"datum":32.8}}},
{"data":{"name":"sig"},"transform":[{"filter":"datum.p=='C'"}],"mark":{"type":"text","fill":"#000","fontSize":11,"fontWeight":"bold","dy":-1,"baseline":"alphabetic"},"encoding":{"x":{"field":"g1","type":"nominal","bandPosition":1.275},"y":{"datum":32.8},"text":{"field":"t"}}}
]},
{"title":"D","width":103,"height":128,"layer":[
{"data":{"name":"bars"},"transform":[{"filter":"datum.p=='D'"}],"mark":{"type":"bar","fill":"#fff","strokeWidth":1.5},"encoding":{"x":{"field":"g","type":"nominal","title":null},"y":{"field":"m","type":"quantitative","stack":null,"title":"FGN (mg/dL)","scale":{"domain":[0,500],"zero":false,"nice":false}},"stroke":{"field":"g","type":"nominal"}}},
{"data":{"name":"pts"},"transform":[{"filter":"datum.p=='D'"},{"window":[{"op":"row_number","as":"k"}],"groupby":["g"]}],"mark":{"type":"point","filled":true,"size":55,"opacity":1,"strokeWidth":1},"encoding":{"x":{"field":"g","type":"nominal"},"xOffset":{"field":"k","type":"nominal"},"y":{"field":"v","type":"quantitative"},"stroke":{"field":"g","type":"nominal"},"fill":{"field":"g","type":"ordinal"},"shape":{"field":"g","type":"nominal"}}},
{"data":{"name":"bars"},"transform":[{"filter":"datum.p=='D'"}],"mark":{"type":"rule","color":"#000","strokeWidth":2},"encoding":{"x":{"field":"g","type":"nominal"},"y":{"field":"lo","type":"quantitative"},"y2":{"field":"hi"}}},
{"data":{"name":"bars"},"transform":[{"filter":"datum.p=='D'"},{"fold":["lo","hi"]}],"mark":{"type":"tick","color":"#000","thickness":2,"size":12},"encoding":{"x":{"field":"g","type":"nominal"},"y":{"field":"value","type":"quantitative"}}},
{"data":{"name":"sig"},"transform":[{"filter":"datum.p=='D'"}],"mark":{"type":"rule","color":"#666","strokeWidth":1.2,"xOffset":2,"x2Offset":-2},"encoding":{"x":{"field":"g1","type":"nominal"},"x2":{"field":"g2"},"y":{"datum":444}}},
{"data":{"name":"sig"},"transform":[{"filter":"datum.p=='D'"}],"mark":{"type":"text","fill":"#000","fontSize":11,"fontWeight":"bold","dy":-1,"baseline":"alphabetic"},"encoding":{"x":{"field":"g1","type":"nominal","bandPosition":1.275},"y":{"datum":444},"text":{"field":"t"}}}
]},
{"title":"E","width":103,"height":128,"layer":[
{"data":{"name":"ref"},"transform":[{"filter":"datum.p=='E'"}],"mark":{"type":"rect","color":"#d3d3d3"},"encoding":{"y":{"field":"lo","type":"quantitative"},"y2":{"field":"hi"}}},
{"data":{"name":"ref"},"transform":[{"filter":"datum.p=='E'"},{"fold":["hi"]}],"mark":{"type":"rule","color":"#000","strokeDash":[2,2],"strokeWidth":1.5},"encoding":{"y":{"field":"value","type":"quantitative"}}},
{"data":{"name":"bars"},"transform":[{"filter":"datum.p=='E'"}],"mark":{"type":"bar","fill":"#fff","strokeWidth":1.5},"encoding":{"x":{"field":"g","type":"nominal","title":null},"y":{"field":"m","type":"quantitative","stack":null,"title":"D-D (ng/mL FEU)","scale":{"domain":[0,1000],"zero":false,"nice":false},"axis":{"format":"d"}},"stroke":{"field":"g","type":"nominal"}}},
{"data":{"name":"pts"},"transform":[{"filter":"datum.p=='E'"},{"window":[{"op":"row_number","as":"k"}],"groupby":["g"]}],"mark":{"type":"point","filled":true,"size":55,"opacity":1,"strokeWidth":1},"encoding":{"x":{"field":"g","type":"nominal"},"xOffset":{"field":"k","type":"nominal"},"y":{"field":"v","type":"quantitative"},"stroke":{"field":"g","type":"nominal"},"fill":{"field":"g","type":"ordinal"},"shape":{"field":"g","type":"nominal"}}},
{"data":{"name":"bars"},"transform":[{"filter":"datum.p=='E'"}],"mark":{"type":"rule","color":"#000","strokeWidth":2},"encoding":{"x":{"field":"g","type":"nominal"},"y":{"field":"lo","type":"quantitative"},"y2":{"field":"hi"}}},
{"data":{"name":"bars"},"transform":[{"filter":"datum.p=='E'"},{"fold":["lo","hi"]}],"mark":{"type":"tick","color":"#000","thickness":2,"size":12},"encoding":{"x":{"field":"g","type":"nominal"},"y":{"field":"value","type":"quantitative"}}}
]},
{"title":"F","width":103,"height":128,"layer":[
{"data":{"name":"ref"},"transform":[{"filter":"datum.p=='F'"}],"mark":{"type":"rect","color":"#d3d3d3"},"encoding":{"y":{"field":"lo","type":"quantitative"},"y2":{"field":"hi"}}},
{"data":{"name":"ref"},"transform":[{"filter":"datum.p=='F'"},{"fold":["lo","hi"]}],"mark":{"type":"rule","color":"#000","strokeDash":[2,2],"strokeWidth":1.5},"encoding":{"y":{"field":"value","type":"quantitative"}}},
{"data":{"name":"bars"},"transform":[{"filter":"datum.p=='F'"}],"mark":{"type":"bar","fill":"#fff","strokeWidth":1.5},"encoding":{"x":{"field":"g","type":"nominal","title":null},"y":{"field":"m","type":"quantitative","stack":null,"title":"vWF activity (%)","scale":{"domain":[0,200],"zero":false,"nice":false}},"stroke":{"field":"g","type":"nominal"}}},
{"data":{"name":"pts"},"transform":[{"filter":"datum.p=='F'"},{"window":[{"op":"row_number","as":"k"}],"groupby":["g"]}],"mark":{"type":"point","filled":true,"size":55,"opacity":1,"strokeWidth":1},"encoding":{"x":{"field":"g","type":"nominal"},"xOffset":{"field":"k","type":"nominal"},"y":{"field":"v","type":"quantitative"},"stroke":{"field":"g","type":"nominal"},"fill":{"field":"g","type":"ordinal"},"shape":{"field":"g","type":"nominal"}}},
{"data":{"name":"bars"},"transform":[{"filter":"datum.p=='F'"}],"mark":{"type":"rule","color":"#000","strokeWidth":2},"encoding":{"x":{"field":"g","type":"nominal"},"y":{"field":"lo","type":"quantitative"},"y2":{"field":"hi"}}},
{"data":{"name":"bars"},"transform":[{"filter":"datum.p=='F'"},{"fold":["lo","hi"]}],"mark":{"type":"tick","color":"#000","thickness":2,"size":12},"encoding":{"x":{"field":"g","type":"nominal"},"y":{"field":"value","type":"quantitative"}}}
]},
{"title":"G","width":103,"height":128,"layer":[
{"data":{"name":"ref"},"transform":[{"filter":"datum.p=='G'"}],"mark":{"type":"rect","color":"#d3d3d3"},"encoding":{"y":{"field":"lo","type":"quantitative"},"y2":{"field":"hi"}}},
{"data":{"name":"ref"},"transform":[{"filter":"datum.p=='G'"},{"fold":["lo","hi"]}],"mark":{"type":"rule","color":"#000","strokeDash":[2,2],"strokeWidth":1.5},"encoding":{"y":{"field":"value","type":"quantitative"}}},
{"data":{"name":"bars"},"transform":[{"filter":"datum.p=='G'"}],"mark":{"type":"bar","fill":"#fff","strokeWidth":1.5},"encoding":{"x":{"field":"g","type":"nominal","title":null},"y":{"field":"m","type":"quantitative","stack":null,"title":"vWF antigen (%)","scale":{"domain":[0,250],"zero":false,"nice":false}},"stroke":{"field":"g","type":"nominal"}}},
{"data":{"name":"pts"},"transform":[{"filter":"datum.p=='G'"},{"window":[{"op":"row_number","as":"k"}],"groupby":["g"]}],"mark":{"type":"point","filled":true,"size":55,"opacity":1,"strokeWidth":1},"encoding":{"x":{"field":"g","type":"nominal"},"xOffset":{"field":"k","type":"nominal"},"y":{"field":"v","type":"quantitative"},"stroke":{"field":"g","type":"nominal"},"fill":{"field":"g","type":"ordinal"},"shape":{"field":"g","type":"nominal"}}},
{"data":{"name":"bars"},"transform":[{"filter":"datum.p=='G'"}],"mark":{"type":"rule","color":"#000","strokeWidth":2},"encoding":{"x":{"field":"g","type":"nominal"},"y":{"field":"lo","type":"quantitative"},"y2":{"field":"hi"}}},
{"data":{"name":"bars"},"transform":[{"filter":"datum.p=='G'"},{"fold":["lo","hi"]}],"mark":{"type":"tick","color":"#000","thickness":2,"size":12},"encoding":{"x":{"field":"g","type":"nominal"},"y":{"field":"value","type":"quantitative"}}}
]},
{"title":"H","width":103,"height":128,"layer":[
{"data":{"name":"ref"},"transform":[{"filter":"datum.p=='H'"}],"mark":{"type":"rect","color":"#d3d3d3"},"encoding":{"y":{"field":"lo","type":"quantitative"},"y2":{"field":"hi"}}},
{"data":{"name":"ref"},"transform":[{"filter":"datum.p=='H'"},{"fold":["lo","hi"]}],"mark":{"type":"rule","color":"#000","strokeDash":[2,2],"strokeWidth":1.5},"encoding":{"y":{"field":"value","type":"quantitative"}}},
{"data":{"name":"bars"},"transform":[{"filter":"datum.p=='H'"}],"mark":{"type":"bar","fill":"#fff","strokeWidth":1.5},"encoding":{"x":{"field":"g","type":"nominal","title":null},"y":{"field":"m","type":"quantitative","stack":null,"title":"FII:C (%)","scale":{"domain":[50,150],"zero":false,"nice":false},"axis":{"values":[50,100,150]}},"stroke":{"field":"g","type":"nominal"}}},
{"data":{"name":"pts"},"transform":[{"filter":"datum.p=='H'"},{"window":[{"op":"row_number","as":"k"}],"groupby":["g"]}],"mark":{"type":"point","filled":true,"size":55,"opacity":1,"strokeWidth":1},"encoding":{"x":{"field":"g","type":"nominal"},"xOffset":{"field":"k","type":"nominal"},"y":{"field":"v","type":"quantitative"},"stroke":{"field":"g","type":"nominal"},"fill":{"field":"g","type":"ordinal"},"shape":{"field":"g","type":"nominal"}}},
{"data":{"name":"bars"},"transform":[{"filter":"datum.p=='H'"}],"mark":{"type":"rule","color":"#000","strokeWidth":2},"encoding":{"x":{"field":"g","type":"nominal"},"y":{"field":"lo","type":"quantitative"},"y2":{"field":"hi"}}},
{"data":{"name":"bars"},"transform":[{"filter":"datum.p=='H'"},{"fold":["lo","hi"]}],"mark":{"type":"tick","color":"#000","thickness":2,"size":12},"encoding":{"x":{"field":"g","type":"nominal"},"y":{"field":"value","type":"quantitative"}}},
{"data":{"name":"sig"},"transform":[{"filter":"datum.p=='H'"}],"mark":{"type":"rule","color":"#666","strokeWidth":1.2,"xOffset":2,"x2Offset":-2},"encoding":{"x":{"field":"g1","type":"nominal"},"x2":{"field":"g2"},"y":{"datum":130.4}}},
{"data":{"name":"sig"},"transform":[{"filter":"datum.p=='H'"}],"mark":{"type":"text","fill":"#000","fontSize":11,"fontWeight":"bold","dy":-1,"baseline":"alphabetic"},"encoding":{"x":{"field":"g1","type":"nominal","bandPosition":1.275},"y":{"datum":130.4},"text":{"field":"t"}}}
]},
{"title":"I","width":103,"height":128,"layer":[
{"data":{"name":"bars"},"transform":[{"filter":"datum.p=='I'"}],"mark":{"type":"bar","fill":"#fff","strokeWidth":1.5},"encoding":{"x":{"field":"g","type":"nominal","title":null},"y":{"field":"m","type":"quantitative","stack":null,"title":"FV:C (%)","scale":{"domain":[0,200],"zero":false,"nice":false}},"stroke":{"field":"g","type":"nominal"}}},
{"data":{"name":"pts"},"transform":[{"filter":"datum.p=='I'"},{"window":[{"op":"row_number","as":"k"}],"groupby":["g"]}],"mark":{"type":"point","filled":true,"size":55,"opacity":1,"strokeWidth":1},"encoding":{"x":{"field":"g","type":"nominal"},"xOffset":{"field":"k","type":"nominal"},"y":{"field":"v","type":"quantitative"},"stroke":{"field":"g","type":"nominal"},"fill":{"field":"g","type":"ordinal"},"shape":{"field":"g","type":"nominal"}}},
{"data":{"name":"bars"},"transform":[{"filter":"datum.p=='I'"}],"mark":{"type":"rule","color":"#000","strokeWidth":2},"encoding":{"x":{"field":"g","type":"nominal"},"y":{"field":"lo","type":"quantitative"},"y2":{"field":"hi"}}},
{"data":{"name":"bars"},"transform":[{"filter":"datum.p=='I'"},{"fold":["lo","hi"]}],"mark":{"type":"tick","color":"#000","thickness":2,"size":12},"encoding":{"x":{"field":"g","type":"nominal"},"y":{"field":"value","type":"quantitative"}}},
{"data":{"name":"sig"},"transform":[{"filter":"datum.p=='I'"}],"mark":{"type":"rule","color":"#666","strokeWidth":1.2,"xOffset":2,"x2Offset":-2},"encoding":{"x":{"field":"g1","type":"nominal"},"x2":{"field":"g2"},"y":{"datum":176}}},
{"data":{"name":"sig"},"transform":[{"filter":"datum.p=='I'"}],"mark":{"type":"text","fill":"#000","fontSize":11,"fontWeight":"bold","dy":-1,"baseline":"alphabetic"},"encoding":{"x":{"field":"g1","type":"nominal","bandPosition":1.275},"y":{"datum":176},"text":{"field":"t"}}}
]},
{"title":"J","width":103,"height":128,"layer":[
{"data":{"name":"ref"},"transform":[{"filter":"datum.p=='J'"}],"mark":{"type":"rect","color":"#d3d3d3"},"encoding":{"y":{"field":"lo","type":"quantitative"},"y2":{"field":"hi"}}},
{"data":{"name":"ref"},"transform":[{"filter":"datum.p=='J'"},{"fold":["lo","hi"]}],"mark":{"type":"rule","color":"#000","strokeDash":[2,2],"strokeWidth":1.5},"encoding":{"y":{"field":"value","type":"quantitative"}}},
{"data":{"name":"bars"},"transform":[{"filter":"datum.p=='J'"}],"mark":{"type":"bar","fill":"#fff","strokeWidth":1.5},"encoding":{"x":{"field":"g","type":"nominal","title":null},"y":{"field":"m","type":"quantitative","stack":null,"title":"FVII:C (%)","scale":{"domain":[0,200],"zero":false,"nice":false}},"stroke":{"field":"g","type":"nominal"}}},
{"data":{"name":"pts"},"transform":[{"filter":"datum.p=='J'"},{"window":[{"op":"row_number","as":"k"}],"groupby":["g"]}],"mark":{"type":"point","filled":true,"size":55,"opacity":1,"strokeWidth":1},"encoding":{"x":{"field":"g","type":"nominal"},"xOffset":{"field":"k","type":"nominal"},"y":{"field":"v","type":"quantitative"},"stroke":{"field":"g","type":"nominal"},"fill":{"field":"g","type":"ordinal"},"shape":{"field":"g","type":"nominal"}}},
{"data":{"name":"bars"},"transform":[{"filter":"datum.p=='J'"}],"mark":{"type":"rule","color":"#000","strokeWidth":2},"encoding":{"x":{"field":"g","type":"nominal"},"y":{"field":"lo","type":"quantitative"},"y2":{"field":"hi"}}},
{"data":{"name":"bars"},"transform":[{"filter":"datum.p=='J'"},{"fold":["lo","hi"]}],"mark":{"type":"tick","color":"#000","thickness":2,"size":12},"encoding":{"x":{"field":"g","type":"nominal"},"y":{"field":"value","type":"quantitative"}}}
]},
{"title":"K","width":103,"height":128,"layer":[
{"data":{"name":"bars"},"transform":[{"filter":"datum.p=='K'"}],"mark":{"type":"bar","fill":"#fff","strokeWidth":1.5},"encoding":{"x":{"field":"g","type":"nominal","title":null},"y":{"field":"m","type":"quantitative","stack":null,"title":"FVIII:C (%)","scale":{"domain":[0,250],"zero":false,"nice":false}},"stroke":{"field":"g","type":"nominal"}}},
{"data":{"name":"pts"},"transform":[{"filter":"datum.p=='K'"},{"window":[{"op":"row_number","as":"k"}],"groupby":["g"]}],"mark":{"type":"point","filled":true,"size":55,"opacity":1,"strokeWidth":1},"encoding":{"x":{"field":"g","type":"nominal"},"xOffset":{"field":"k","type":"nominal"},"y":{"field":"v","type":"quantitative"},"stroke":{"field":"g","type":"nominal"},"fill":{"field":"g","type":"ordinal"},"shape":{"field":"g","type":"nominal"}}},
{"data":{"name":"bars"},"transform":[{"filter":"datum.p=='K'"}],"mark":{"type":"rule","color":"#000","strokeWidth":2},"encoding":{"x":{"field":"g","type":"nominal"},"y":{"field":"lo","type":"quantitative"},"y2":{"field":"hi"}}},
{"data":{"name":"bars"},"transform":[{"filter":"datum.p=='K'"},{"fold":["lo","hi"]}],"mark":{"type":"tick","color":"#000","thickness":2,"size":12},"encoding":{"x":{"field":"g","type":"nominal"},"y":{"field":"value","type":"quantitative"}}},
{"data":{"name":"sig"},"transform":[{"filter":"datum.p=='K'"}],"mark":{"type":"rule","color":"#666","strokeWidth":1.2,"xOffset":2,"x2Offset":-2},"encoding":{"x":{"field":"g1","type":"nominal"},"x2":{"field":"g2"},"y":{"datum":224}}},
{"data":{"name":"sig"},"transform":[{"filter":"datum.p=='K'"}],"mark":{"type":"text","fill":"#000","fontSize":11,"fontWeight":"bold","dy":-1,"baseline":"alphabetic"},"encoding":{"x":{"field":"g1","type":"nominal","bandPosition":1.275},"y":{"datum":224},"text":{"field":"t"}}}
]},
{"title":"L","width":103,"height":128,"layer":[
{"data":{"name":"ref"},"transform":[{"filter":"datum.p=='L'"}],"mark":{"type":"rect","color":"#d3d3d3"},"encoding":{"y":{"field":"lo","type":"quantitative"},"y2":{"field":"hi"}}},
{"data":{"name":"ref"},"transform":[{"filter":"datum.p=='L'"},{"fold":["lo","hi"]}],"mark":{"type":"rule","color":"#000","strokeDash":[2,2],"strokeWidth":1.5},"encoding":{"y":{"field":"value","type":"quantitative"}}},
{"data":{"name":"bars"},"transform":[{"filter":"datum.p=='L'"}],"mark":{"type":"bar","fill":"#fff","strokeWidth":1.5},"encoding":{"x":{"field":"g","type":"nominal","title":null},"y":{"field":"m","type":"quantitative","stack":null,"title":"FIX:C (%)","scale":{"domain":[0,200],"zero":false,"nice":false}},"stroke":{"field":"g","type":"nominal"}}},
{"data":{"name":"pts"},"transform":[{"filter":"datum.p=='L'"},{"window":[{"op":"row_number","as":"k"}],"groupby":["g"]}],"mark":{"type":"point","filled":true,"size":55,"opacity":1,"strokeWidth":1},"encoding":{"x":{"field":"g","type":"nominal"},"xOffset":{"field":"k","type":"nominal"},"y":{"field":"v","type":"quantitative"},"stroke":{"field":"g","type":"nominal"},"fill":{"field":"g","type":"ordinal"},"shape":{"field":"g","type":"nominal"}}},
{"data":{"name":"bars"},"transform":[{"filter":"datum.p=='L'"}],"mark":{"type":"rule","color":"#000","strokeWidth":2},"encoding":{"x":{"field":"g","type":"nominal"},"y":{"field":"lo","type":"quantitative"},"y2":{"field":"hi"}}},
{"data":{"name":"bars"},"transform":[{"filter":"datum.p=='L'"},{"fold":["lo","hi"]}],"mark":{"type":"tick","color":"#000","thickness":2,"size":12},"encoding":{"x":{"field":"g","type":"nominal"},"y":{"field":"value","type":"quantitative"}}},
{"data":{"name":"sig"},"transform":[{"filter":"datum.p=='L'"}],"mark":{"type":"rule","color":"#666","strokeWidth":1.2,"xOffset":2,"x2Offset":-2},"encoding":{"x":{"field":"g1","type":"nominal"},"x2":{"field":"g2"},"y":{"datum":170}}},
{"data":{"name":"sig"},"transform":[{"filter":"datum.p=='L'"}],"mark":{"type":"text","fill":"#000","fontSize":11,"fontWeight":"bold","dy":-1,"baseline":"alphabetic"},"encoding":{"x":{"field":"g1","type":"nominal","bandPosition":1.275},"y":{"datum":170},"text":{"field":"t"}}}
]},
{"title":"M","width":103,"height":128,"layer":[
{"data":{"name":"ref"},"transform":[{"filter":"datum.p=='M'"}],"mark":{"type":"rect","color":"#d3d3d3"},"encoding":{"y":{"field":"lo","type":"quantitative"},"y2":{"field":"hi"}}},
{"data":{"name":"ref"},"transform":[{"filter":"datum.p=='M'"},{"fold":["lo","hi"]}],"mark":{"type":"rule","color":"#000","strokeDash":[2,2],"strokeWidth":1.5},"encoding":{"y":{"field":"value","type":"quantitative"}}},
{"data":{"name":"bars"},"transform":[{"filter":"datum.p=='M'"}],"mark":{"type":"bar","fill":"#fff","strokeWidth":1.5},"encoding":{"x":{"field":"g","type":"nominal","title":null},"y":{"field":"m","type":"quantitative","stack":null,"title":"FX:C (%)","scale":{"domain":[0,150],"zero":false,"nice":false}},"stroke":{"field":"g","type":"nominal"}}},
{"data":{"name":"pts"},"transform":[{"filter":"datum.p=='M'"},{"window":[{"op":"row_number","as":"k"}],"groupby":["g"]}],"mark":{"type":"point","filled":true,"size":55,"opacity":1,"strokeWidth":1},"encoding":{"x":{"field":"g","type":"nominal"},"xOffset":{"field":"k","type":"nominal"},"y":{"field":"v","type":"quantitative"},"stroke":{"field":"g","type":"nominal"},"fill":{"field":"g","type":"ordinal"},"shape":{"field":"g","type":"nominal"}}},
{"data":{"name":"bars"},"transform":[{"filter":"datum.p=='M'"}],"mark":{"type":"rule","color":"#000","strokeWidth":2},"encoding":{"x":{"field":"g","type":"nominal"},"y":{"field":"lo","type":"quantitative"},"y2":{"field":"hi"}}},
{"data":{"name":"bars"},"transform":[{"filter":"datum.p=='M'"},{"fold":["lo","hi"]}],"mark":{"type":"tick","color":"#000","thickness":2,"size":12},"encoding":{"x":{"field":"g","type":"nominal"},"y":{"field":"value","type":"quantitative"}}},
{"data":{"name":"sig"},"transform":[{"filter":"datum.p=='M'"}],"mark":{"type":"rule","color":"#666","strokeWidth":1.2,"xOffset":2,"x2Offset":-2},"encoding":{"x":{"field":"g1","type":"nominal"},"x2":{"field":"g2"},"y":{"datum":131}}},
{"data":{"name":"sig"},"transform":[{"filter":"datum.p=='M'"}],"mark":{"type":"text","fill":"#000","fontSize":11,"fontWeight":"bold","dy":-1,"baseline":"alphabetic"},"encoding":{"x":{"field":"g1","type":"nominal","bandPosition":1.275},"y":{"datum":131},"text":{"field":"t"}}}
]},
{"title":"N","width":103,"height":128,"layer":[
{"data":{"name":"ref"},"transform":[{"filter":"datum.p=='N'"}],"mark":{"type":"rect","color":"#d3d3d3"},"encoding":{"y":{"field":"lo","type":"quantitative"},"y2":{"field":"hi"}}},
{"data":{"name":"ref"},"transform":[{"filter":"datum.p=='N'"},{"fold":["lo","hi"]}],"mark":{"type":"rule","color":"#000","strokeDash":[2,2],"strokeWidth":1.5},"encoding":{"y":{"field":"value","type":"quantitative"}}},
{"data":{"name":"bars"},"transform":[{"filter":"datum.p=='N'"}],"mark":{"type":"bar","fill":"#fff","strokeWidth":1.5},"encoding":{"x":{"field":"g","type":"nominal","title":null},"y":{"field":"m","type":"quantitative","stack":null,"title":"FXI:C (%)","scale":{"domain":[0,250],"zero":false,"nice":false}},"stroke":{"field":"g","type":"nominal"}}},
{"data":{"name":"pts"},"transform":[{"filter":"datum.p=='N'"},{"window":[{"op":"row_number","as":"k"}],"groupby":["g"]}],"mark":{"type":"point","filled":true,"size":55,"opacity":1,"strokeWidth":1},"encoding":{"x":{"field":"g","type":"nominal"},"xOffset":{"field":"k","type":"nominal"},"y":{"field":"v","type":"quantitative"},"stroke":{"field":"g","type":"nominal"},"fill":{"field":"g","type":"ordinal"},"shape":{"field":"g","type":"nominal"}}},
{"data":{"name":"bars"},"transform":[{"filter":"datum.p=='N'"}],"mark":{"type":"rule","color":"#000","strokeWidth":2},"encoding":{"x":{"field":"g","type":"nominal"},"y":{"field":"lo","type":"quantitative"},"y2":{"field":"hi"}}},
{"data":{"name":"bars"},"transform":[{"filter":"datum.p=='N'"},{"fold":["lo","hi"]}],"mark":{"type":"tick","color":"#000","thickness":2,"size":12},"encoding":{"x":{"field":"g","type":"nominal"},"y":{"field":"value","type":"quantitative"}}},
{"data":{"name":"sig"},"transform":[{"filter":"datum.p=='N'"}],"mark":{"type":"rule","color":"#666","strokeWidth":1.2,"xOffset":2,"x2Offset":-2},"encoding":{"x":{"field":"g1","type":"nominal"},"x2":{"field":"g2"},"y":{"datum":209}}},
{"data":{"name":"sig"},"transform":[{"filter":"datum.p=='N'"}],"mark":{"type":"text","fill":"#000","fontSize":11,"fontWeight":"bold","dy":-1,"baseline":"alphabetic"},"encoding":{"x":{"field":"g1","type":"nominal","bandPosition":1.275},"y":{"datum":209},"text":{"field":"t"}}}
]},
{"title":"O","width":103,"height":128,"layer":[
{"data":{"name":"ref"},"transform":[{"filter":"datum.p=='O'"}],"mark":{"type":"rect","color":"#d3d3d3"},"encoding":{"y":{"field":"lo","type":"quantitative"},"y2":{"field":"hi"}}},
{"data":{"name":"ref"},"transform":[{"filter":"datum.p=='O'"},{"fold":["lo","hi"]}],"mark":{"type":"rule","color":"#000","strokeDash":[2,2],"strokeWidth":1.5},"encoding":{"y":{"field":"value","type":"quantitative"}}},
{"data":{"name":"bars"},"transform":[{"filter":"datum.p=='O'"}],"mark":{"type":"bar","fill":"#fff","strokeWidth":1.5},"encoding":{"x":{"field":"g","type":"nominal","title":null},"y":{"field":"m","type":"quantitative","stack":null,"title":"FXII:C (%)","scale":{"domain":[0,200],"zero":false,"nice":false}},"stroke":{"field":"g","type":"nominal"}}},
{"data":{"name":"pts"},"transform":[{"filter":"datum.p=='O'"},{"window":[{"op":"row_number","as":"k"}],"groupby":["g"]}],"mark":{"type":"point","filled":true,"size":55,"opacity":1,"strokeWidth":1},"encoding":{"x":{"field":"g","type":"nominal"},"xOffset":{"field":"k","type":"nominal"},"y":{"field":"v","type":"quantitative"},"stroke":{"field":"g","type":"nominal"},"fill":{"field":"g","type":"ordinal"},"shape":{"field":"g","type":"nominal"}}},
{"data":{"name":"bars"},"transform":[{"filter":"datum.p=='O'"}],"mark":{"type":"rule","color":"#000","strokeWidth":2},"encoding":{"x":{"field":"g","type":"nominal"},"y":{"field":"lo","type":"quantitative"},"y2":{"field":"hi"}}},
{"data":{"name":"bars"},"transform":[{"filter":"datum.p=='O'"},{"fold":["lo","hi"]}],"mark":{"type":"tick","color":"#000","thickness":2,"size":12},"encoding":{"x":{"field":"g","type":"nominal"},"y":{"field":"value","type":"quantitative"}}},
{"data":{"name":"sig"},"transform":[{"filter":"datum.p=='O'"}],"mark":{"type":"rule","color":"#666","strokeWidth":1.2,"xOffset":2,"x2Offset":-2},"encoding":{"x":{"field":"g1","type":"nominal"},"x2":{"field":"g2"},"y":{"datum":162}}},
{"data":{"name":"sig"},"transform":[{"filter":"datum.p=='O'"}],"mark":{"type":"text","fill":"#000","fontSize":11,"fontWeight":"bold","dy":-1,"baseline":"alphabetic"},"encoding":{"x":{"field":"g1","type":"nominal","bandPosition":1.275},"y":{"datum":162},"text":{"field":"t"}}}
]},
{"title":"P","width":103,"height":128,"layer":[
{"data":{"name":"ref"},"transform":[{"filter":"datum.p=='P'"}],"mark":{"type":"rect","color":"#d3d3d3"},"encoding":{"y":{"field":"lo","type":"quantitative"},"y2":{"field":"hi"}}},
{"data":{"name":"ref"},"transform":[{"filter":"datum.p=='P'"},{"fold":["lo","hi"]}],"mark":{"type":"rule","color":"#000","strokeDash":[2,2],"strokeWidth":1.5},"encoding":{"y":{"field":"value","type":"quantitative"}}},
{"data":{"name":"bars"},"transform":[{"filter":"datum.p=='P'"}],"mark":{"type":"bar","fill":"#fff","strokeWidth":1.5},"encoding":{"x":{"field":"g","type":"nominal","title":null},"y":{"field":"m","type":"quantitative","stack":null,"title":"PS activity (%)","scale":{"domain":[0,200],"zero":false,"nice":false}},"stroke":{"field":"g","type":"nominal"}}},
{"data":{"name":"pts"},"transform":[{"filter":"datum.p=='P'"},{"window":[{"op":"row_number","as":"k"}],"groupby":["g"]}],"mark":{"type":"point","filled":true,"size":55,"opacity":1,"strokeWidth":1},"encoding":{"x":{"field":"g","type":"nominal"},"xOffset":{"field":"k","type":"nominal"},"y":{"field":"v","type":"quantitative"},"stroke":{"field":"g","type":"nominal"},"fill":{"field":"g","type":"ordinal"},"shape":{"field":"g","type":"nominal"}}},
{"data":{"name":"bars"},"transform":[{"filter":"datum.p=='P'"}],"mark":{"type":"rule","color":"#000","strokeWidth":2},"encoding":{"x":{"field":"g","type":"nominal"},"y":{"field":"lo","type":"quantitative"},"y2":{"field":"hi"}}},
{"data":{"name":"bars"},"transform":[{"filter":"datum.p=='P'"},{"fold":["lo","hi"]}],"mark":{"type":"tick","color":"#000","thickness":2,"size":12},"encoding":{"x":{"field":"g","type":"nominal"},"y":{"field":"value","type":"quantitative"}}},
{"data":{"name":"sig"},"transform":[{"filter":"datum.p=='P'"}],"mark":{"type":"rule","color":"#666","strokeWidth":1.2,"xOffset":2,"x2Offset":-2},"encoding":{"x":{"field":"g1","type":"nominal"},"x2":{"field":"g2"},"y":{"datum":175}}},
{"data":{"name":"sig"},"transform":[{"filter":"datum.p=='P'"}],"mark":{"type":"text","fill":"#000","fontSize":11,"fontWeight":"bold","dy":-1,"baseline":"alphabetic"},"encoding":{"x":{"field":"g1","type":"nominal","bandPosition":1.275},"y":{"datum":175},"text":{"field":"t"}}}
]},
{"title":"Q","width":103,"height":128,"layer":[
{"data":{"name":"bars"},"transform":[{"filter":"datum.p=='Q'"}],"mark":{"type":"bar","fill":"#fff","strokeWidth":1.5},"encoding":{"x":{"field":"g","type":"nominal","title":null},"y":{"field":"m","type":"quantitative","stack":null,"title":"PC antigen (%)","scale":{"domain":[0,150],"zero":false,"nice":false}},"stroke":{"field":"g","type":"nominal"}}},
{"data":{"name":"pts"},"transform":[{"filter":"datum.p=='Q'"},{"window":[{"op":"row_number","as":"k"}],"groupby":["g"]}],"mark":{"type":"point","filled":true,"size":55,"opacity":1,"strokeWidth":1},"encoding":{"x":{"field":"g","type":"nominal"},"xOffset":{"field":"k","type":"nominal"},"y":{"field":"v","type":"quantitative"},"stroke":{"field":"g","type":"nominal"},"fill":{"field":"g","type":"ordinal"},"shape":{"field":"g","type":"nominal"}}},
{"data":{"name":"bars"},"transform":[{"filter":"datum.p=='Q'"}],"mark":{"type":"rule","color":"#000","strokeWidth":2},"encoding":{"x":{"field":"g","type":"nominal"},"y":{"field":"lo","type":"quantitative"},"y2":{"field":"hi"}}},
{"data":{"name":"bars"},"transform":[{"filter":"datum.p=='Q'"},{"fold":["lo","hi"]}],"mark":{"type":"tick","color":"#000","thickness":2,"size":12},"encoding":{"x":{"field":"g","type":"nominal"},"y":{"field":"value","type":"quantitative"}}},
{"data":{"name":"sig"},"transform":[{"filter":"datum.p=='Q'"}],"mark":{"type":"rule","color":"#666","strokeWidth":1.2},"encoding":{"x":{"field":"g1","type":"nominal"},"x2":{"field":"g2"},"y":{"datum":138}}},
{"data":{"name":"sig"},"transform":[{"filter":"datum.p=='Q'"}],"mark":{"type":"text","fill":"#000","fontSize":11,"fontWeight":"bold","dy":-1,"baseline":"alphabetic"},"encoding":{"x":{"field":"g1","type":"nominal","bandPosition":2.05},"y":{"datum":138},"text":{"field":"t"}}}
]},
{"title":"R","width":103,"height":128,"layer":[
{"data":{"name":"ref"},"transform":[{"filter":"datum.p=='R'"}],"mark":{"type":"rect","color":"#d3d3d3"},"encoding":{"y":{"field":"lo","type":"quantitative"},"y2":{"field":"hi"}}},
{"data":{"name":"ref"},"transform":[{"filter":"datum.p=='R'"},{"fold":["lo","hi"]}],"mark":{"type":"rule","color":"#000","strokeDash":[2,2],"strokeWidth":1.5},"encoding":{"y":{"field":"value","type":"quantitative"}}},
{"data":{"name":"bars"},"transform":[{"filter":"datum.p=='R'"}],"mark":{"type":"bar","fill":"#fff","strokeWidth":1.5},"encoding":{"x":{"field":"g","type":"nominal","title":null},"y":{"field":"m","type":"quantitative","stack":null,"title":"a2-PI (%)","scale":{"domain":[60,140],"zero":false,"nice":false}},"stroke":{"field":"g","type":"nominal"}}},
{"data":{"name":"pts"},"transform":[{"filter":"datum.p=='R'"},{"window":[{"op":"row_number","as":"k"}],"groupby":["g"]}],"mark":{"type":"point","filled":true,"size":55,"opacity":1,"strokeWidth":1},"encoding":{"x":{"field":"g","type":"nominal"},"xOffset":{"field":"k","type":"nominal"},"y":{"field":"v","type":"quantitative"},"stroke":{"field":"g","type":"nominal"},"fill":{"field":"g","type":"ordinal"},"shape":{"field":"g","type":"nominal"}}},
{"data":{"name":"bars"},"transform":[{"filter":"datum.p=='R'"}],"mark":{"type":"rule","color":"#000","strokeWidth":2},"encoding":{"x":{"field":"g","type":"nominal"},"y":{"field":"lo","type":"quantitative"},"y2":{"field":"hi"}}},
{"data":{"name":"bars"},"transform":[{"filter":"datum.p=='R'"},{"fold":["lo","hi"]}],"mark":{"type":"tick","color":"#000","thickness":2,"size":12},"encoding":{"x":{"field":"g","type":"nominal"},"y":{"field":"value","type":"quantitative"}}},
{"data":{"name":"sig"},"transform":[{"filter":"datum.p=='R'"}],"mark":{"type":"rule","color":"#666","strokeWidth":1.2,"xOffset":2,"x2Offset":-2},"encoding":{"x":{"field":"g1","type":"nominal"},"x2":{"field":"g2"},"y":{"datum":132}}},
{"data":{"name":"sig"},"transform":[{"filter":"datum.p=='R'"}],"mark":{"type":"text","fill":"#000","fontSize":11,"fontWeight":"bold","dy":-1,"baseline":"alphabetic"},"encoding":{"x":{"field":"g1","type":"nominal","bandPosition":1.275},"y":{"datum":132},"text":{"field":"t"}}}
]}
],
"config": {
"font": "Liberation Serif",
"background": "#ffffff",
"view": {"stroke": "#555", "strokeWidth": 1},
"axis": {"grid": false, "domainColor": "#000", "domainWidth": 1, "tickColor": "#000", "tickSize": 4, "labelColor": "#000", "labelFont": "Liberation Serif", "labelFontSize": 10, "labelPadding": 1, "titleColor": "#000", "titleFont": "Liberation Serif", "titleFontSize": 13, "titleFontWeight": "normal", "titlePadding": 2},
"axisX": {"labels": false, "ticks": false},
"legend": {"disable": true},
"title": {"anchor": "start", "frame": "group", "dx": -46, "offset": -9, "fontSize": 14, "font": "Liberation Serif", "fontWeight": "normal", "baseline": "alphabetic", "color": "#000"},
"scale": {"bandPaddingInner": 0.355, "bandPaddingOuter": 0.34},
"range": {"category": ["#9b4f97", "#3e9a68", "#a9a45c"], "ordinal": ["#dcaad9", "#a8d793", "#d9d89c"], "symbol": ["triangle-down", "square", "circle"]}
}
}
